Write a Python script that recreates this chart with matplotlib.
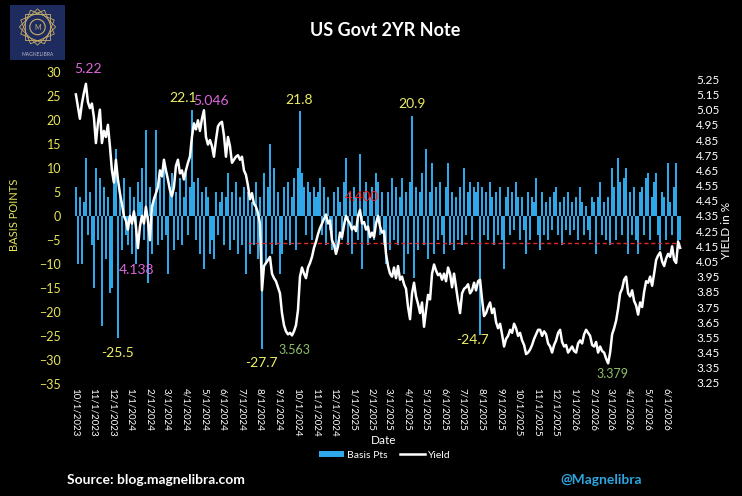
import numpy as np
import pandas as pd
import matplotlib
matplotlib.use('Agg')
import matplotlib.pyplot as plt
import matplotlib.dates as mdates
from matplotlib.ticker import FuncFormatter, FixedLocator
from matplotlib.patches import Patch, RegularPolygon, Circle
from matplotlib.lines import Line2D

plt.rcParams['font.family'] = ['Lato', 'DejaVu Sans']

# ---------------- data ----------------
start_date = '2023-10-03'
end_date = '2026-06-24'

yield_pct = [
    5.15, 5.07, 4.99, 5.09, 5.16, 5.22, 5.10, 5.06, 5.09, 5.00,
    4.83, 4.96, 5.05, 4.83, 4.91, 4.87, 4.95, 4.81, 4.65, 4.57,
    4.72, 4.59, 4.50, 4.43, 4.35, 4.32, 4.26, 4.35, 4.30, 4.38,
    4.28, 4.138, 4.28, 4.35, 4.30, 4.41, 4.32, 4.19, 4.41, 4.46,
    4.50, 4.54, 4.65, 4.61, 4.72, 4.65, 4.59, 4.52, 4.48, 4.54,
    4.68, 4.72, 4.63, 4.65, 4.59, 4.65, 4.70, 4.74, 4.87, 4.96,
    4.92, 4.98, 4.91, 4.99, 5.046, 4.87, 4.82, 4.85, 4.81, 4.74,
    4.85, 4.94, 4.96,
    4.97, 4.88, 4.74, 4.87, 4.81, 4.70, 4.72, 4.74, 4.75, 4.72,
    4.74, 4.65, 4.62, 4.55, 4.46, 4.50, 4.43, 4.41, 4.37, 4.30,
    3.86, 4.02, 4.04, 4.06, 4.08, 3.97, 3.94, 3.92, 3.88, 3.84,
    3.71, 3.63, 3.59, 3.57, 3.58, 3.563, 3.59, 3.63, 3.73, 3.95,
    4.01, 3.97, 3.94, 4.01, 4.04, 4.08, 4.14, 4.18, 4.23, 4.27,
    4.30, 4.33, 4.36, 4.30, 4.32, 4.19, 4.16, 4.10, 4.15, 4.24,
    4.21, 4.29, 4.35, 4.32, 4.30, 4.26, 4.28, 4.25, 4.35, 4.39,
    4.30, 4.31, 4.26, 4.28, 4.21,
    4.24, 4.21, 4.30, 4.35, 4.28, 4.24, 4.25, 4.10, 4.02, 3.97,
    3.95, 4.01, 3.94, 4.02, 3.93, 3.95, 3.90, 3.87, 3.75, 3.67,
    3.84, 3.91, 3.82, 3.77, 3.71, 3.78, 3.62, 3.73, 3.83, 3.80,
    3.97, 4.03, 3.99, 3.96, 3.97, 3.93, 3.97, 3.92, 4.01, 3.97,
    3.88, 3.97, 3.88, 3.79, 3.71, 3.84, 3.87, 3.88, 3.90, 3.84,
    3.86, 3.91, 3.86, 3.92, 3.93, 3.80, 3.69, 3.71, 3.75, 3.78,
    3.71, 3.74, 3.65, 3.61, 3.64, 3.57, 3.49, 3.54, 3.56, 3.60,
    3.58, 3.64, 3.61, 3.56, 3.58,
    3.53, 3.50, 3.44, 3.45, 3.47, 3.50, 3.54, 3.57, 3.60, 3.60,
    3.56, 3.59, 3.57, 3.51, 3.49, 3.45, 3.50, 3.53, 3.58, 3.60,
    3.52, 3.49, 3.50, 3.45, 3.47, 3.49, 3.46, 3.45, 3.51, 3.53,
    3.51, 3.57, 3.60, 3.58, 3.56, 3.50, 3.49, 3.52, 3.45, 3.49,
    3.46, 3.45, 3.41, 3.379, 3.45, 3.57, 3.61, 3.66, 3.74, 3.84,
    3.87, 3.93, 3.95, 3.84, 3.82, 3.86, 3.79, 3.76, 3.70, 3.78,
    3.75, 3.85, 3.92, 3.91, 3.95, 3.89, 3.97, 4.06, 4.09, 4.11,
    4.05, 4.02, 4.07, 4.10, 4.08, 4.15, 4.06, 4.04, 4.18, 4.14,
]

basis_pts = [
    6, -10, 4, -10, 3, 12, -4, 5, -6, -15,
    10, -5, 8, -23, 6, -9, 4, -16, -15, 9,
    14, -25.5, 5, -7, 8, -4, -6, 6, -8, 4,
    -10, 7, 3, 10, -5, 18, -14, 6, -8, 4,
    18, -6, 8, -5, 10, -4, -12, 6, 9, -7,
    5, -5, 8, -6, 4, 9, -4, 6, 22.1, 7,
    -5, 8, -8, 5, -11, 6, 4, -8, -5, -9,
    5, -4, 3,
    5, -6, 4, 9, -7, 5, -5, 7, -8, 4,
    -6, 6, -12, 5, -8, 3, -6, 7, -9, 4,
    -27.7, 9, -10, 6, 15, -8, 10, -6, 5, -12,
    -8, 6, -5, 7, -6, 4, 8, -7, 10, 21.8,
    9, 6, -4, 7, 5, -5, 6, 4, 5, 8,
    -4, 6, -6, 4, -3, -7, 5, -8, 6, 3,
    -5, 7, 12, -6, 5, -8, 6, 4, -5, 13,
    -11, 5, 7, -6, 4,
    6, -5, 9, 7, -4, 5, -6, -10, 5, -7,
    8, -5, 6, -6, 4, 8, -12, 5, -8, 7,
    20.9, -13, 6, -7, 5, 9, -6, 14, -9, 5,
    11, -8, 6, -5, 7, -4, -8, 6, 11, -6,
    5, -7, 4, -5, 6, -6, 10, -4, 5, 7,
    -5, 6, 5, 7, -24.7, 6, -4, 5, -5, 7,
    4, -6, 5, -4, 6, -5, -11, 4, 6, -4,
    5, -3, 7, 4, -5,
    4, -3, -8, 5, -5, 4, 3, 8, -4, -7,
    5, -4, 3, -5, 4, -3, 5, 6, -4, 3,
    -6, 4, -3, 5, -4, 3, -3, 4, -5, 6,
    3, -4, 2, -3, -5, 4, 3, -8, 4, 7,
    -4, 3, -5, 4, -6, 10, 6, -5, 12, 7,
    -4, 8, 10, -8, 5, -4, 6, -5, -8, 5,
    6, -4, 8, 9, -5, 4, 7, 9, -4, -7,
    5, 4, -5, 11, 3, -4, 6, 11, -6, -5,
]

left_ticks = list(range(-35, 31, 5))
right_ticks = [round(3.25 + 0.1 * i, 2) for i in range(21)]
month_ticks = pd.date_range('2023-10-01', '2026-06-01', freq='MS')
ref_level = 4.17
ref_start = '2024-07-13'
ref_label = '4.400'

dates = pd.date_range(start_date, end_date, periods=len(yield_pct))
yld = np.array(yield_pct)
bps = np.array(basis_pts)

# ---------------- figure ----------------
W, H = 742, 496
fig = plt.figure(figsize=(W / 100, H / 100), dpi=100, facecolor='black')

BLUE = '#2FA8EA'
ax = fig.add_axes([68 / W, 1 - 384 / H, (685 - 68) / W, (384 - 72) / H])
ax.set_facecolor('black')
ax.bar(dates, bps, width=2.2, color=BLUE, linewidth=0, zorder=2)
ax.set_ylim(-35, 30)
ax.set_yticks(left_ticks)
ax.set_xlim(pd.Timestamp('2023-09-20'), pd.Timestamp('2026-07-02'))

ax2 = ax.twinx()
ax2.patch.set_visible(False)
ax2.plot(dates, yld, color='white', lw=1.8, zorder=3)
ax2.hlines(ref_level, pd.Timestamp(ref_start), dates[-1], colors='#E02828',
           linestyles=(0, (3, 2)), lw=1.0, zorder=2)
ax2.set_ylim(3.243, 5.298)
ax2.yaxis.set_major_locator(FixedLocator(right_ticks))
ax2.yaxis.set_major_formatter(FuncFormatter(lambda v, p: f"{v:.2f}"))

for a in (ax, ax2):
    for s in a.spines.values():
        s.set_visible(False)
    a.tick_params(length=0)

ax.tick_params(axis='y', colors='#E6E65A', labelsize=9, pad=5)
ax2.tick_params(axis='y', colors='white', labelsize=8.5, pad=8)

ax.xaxis.set_major_locator(FixedLocator(mdates.date2num(month_ticks)))
ax.xaxis.set_major_formatter(FuncFormatter(
    lambda x, p: (lambda d: f"{d.month}/{d.day}/{d.year}")(mdates.num2date(x))))
ax.tick_params(axis='x', colors='white', labelsize=7, pad=3)
for lab in ax.get_xticklabels():
    lab.set_rotation(-90)
    lab.set_ha('center')
    lab.set_va('top')

# ---------------- annotations ----------------
def pt(px):
    return px * 0.72

def ann(axis, idx, val, text, color, dx, dy, size=10):
    axis.annotate(text, xy=(dates[idx], val), xytext=(pt(dx), pt(dy)),
                  textcoords='offset points', ha='center', va='center',
                  color=color, fontsize=size, zorder=5)

MAG = '#DD66DD'
YEL = '#EEEE66'
GRN = '#8FBF6A'

i = int(np.argmax(yld[:20]))
ann(ax2, i, yld[i], f"{yld[i]:.2f}", MAG, 2, 15)
i = int(np.argmax(bps[:70]))
ann(ax, i, bps[i], f"{bps[i]}", YEL, -9, 12)
i = 64
ann(ax2, i, yld[i], f"{yld[i]:.3f}", MAG, 7, 9)
i = int(np.argmin(yld[:60]))
ann(ax2, i, yld[i], f"{yld[i]:.3f}", MAG, -1, -22)
i = int(np.argmin(bps[:60]))
ann(ax, i, bps[i], f"{bps[i]}", YEL, 0, -15)
i = int(np.argmax(bps[90:140])) + 90
ann(ax, i, bps[i], f"{bps[i]}", YEL, -1, 11)
i = int(np.argmin(bps[80:140])) + 80
ann(ax, i, bps[i], f"{bps[i]}", YEL, -1, -14)
i = int(np.argmin(yld[80:140])) + 80
ann(ax2, i, yld[i], f"{yld[i]:.3f}", GRN, 2, -15, size=9)
i = int(np.argmax(bps[150:200])) + 150
ann(ax, i, bps[i], f"{bps[i]}", YEL, 0, 12)
i = int(np.argmin(bps[180:230])) + 180
ann(ax, i, bps[i], f"{bps[i]}", YEL, -8, -5)
i = int(np.argmin(yld))
ann(ax2, i, yld[i], f"{yld[i]:.3f}", GRN, 4, -11, size=9)

ax2.text(pd.Timestamp('2025-01-15'), 4.475, ref_label, color='#FF1A1A',
         fontsize=9.5, ha='center', va='center', zorder=6)

# ---------------- labels, title, legend ----------------
fig.text(385 / W, 1 - 30 / H, 'US Govt 2YR Note', color='white', fontsize=13,
         fontweight='bold', ha='center', va='center')
fig.text(14 / W, 1 - 215 / H, 'BASIS POINTS', color='#E6E65A', fontsize=8,
         rotation=90, ha='center', va='center')
fig.text(727 / W, 1 - 230 / H, 'YIELD in %', color='white', fontsize=8.5,
         rotation=90, ha='center', va='center')
fig.text(384 / W, 1 - 440 / H, 'Date', color='white', fontsize=8.5,
         ha='center', va='center')

handles = [Patch(facecolor=BLUE, edgecolor='none'),
           Line2D([0], [0], color='white', lw=1.8)]
fig.legend(handles, ['Basis Pts', 'Yield'], loc='center',
           bbox_to_anchor=(385 / W, 1 - 455 / H), ncol=2, frameon=False,
           fontsize=7.5, labelcolor='white', handlelength=2.4,
           handleheight=0.6, columnspacing=1.2, handletextpad=0.3)

fig.text(67 / W, 1 - 480 / H, 'Source: blog.magnelibra.com', color='white',
         fontsize=10, fontweight='bold', ha='left', va='center')
fig.text(601 / W, 1 - 480 / H, '@Magnelibra', color='#2CA6E0', fontsize=10,
         fontweight='bold', ha='center', va='center')

# ---------------- logo ----------------
lg = fig.add_axes([10 / W, 1 - 60 / H, 55 / W, 55 / H])
lg.set_facecolor('#1D2B5E')
lg.set_xlim(0, 1)
lg.set_ylim(0, 1)
lg.set_xticks([])
lg.set_yticks([])
for s in lg.spines.values():
    s.set_visible(False)
GOLD = '#C9AE6A'
for k in range(4):
    lg.add_patch(RegularPolygon((0.5, 0.6), 4, radius=0.33,
                                orientation=np.pi / 8 * k, fill=False,
                                edgecolor=GOLD, lw=0.6))
lg.add_patch(Circle((0.5, 0.6), 0.14, fill=False, edgecolor=GOLD, lw=0.8))
lg.text(0.5, 0.6, 'M', color=GOLD, fontsize=5, ha='center', va='center')
lg.text(0.5, 0.1, 'MAGNELIBRA', color='#B8B8C8', fontsize=3.6, ha='center',
        va='center')

fig.savefig('out.png', dpi=100, facecolor='black')
